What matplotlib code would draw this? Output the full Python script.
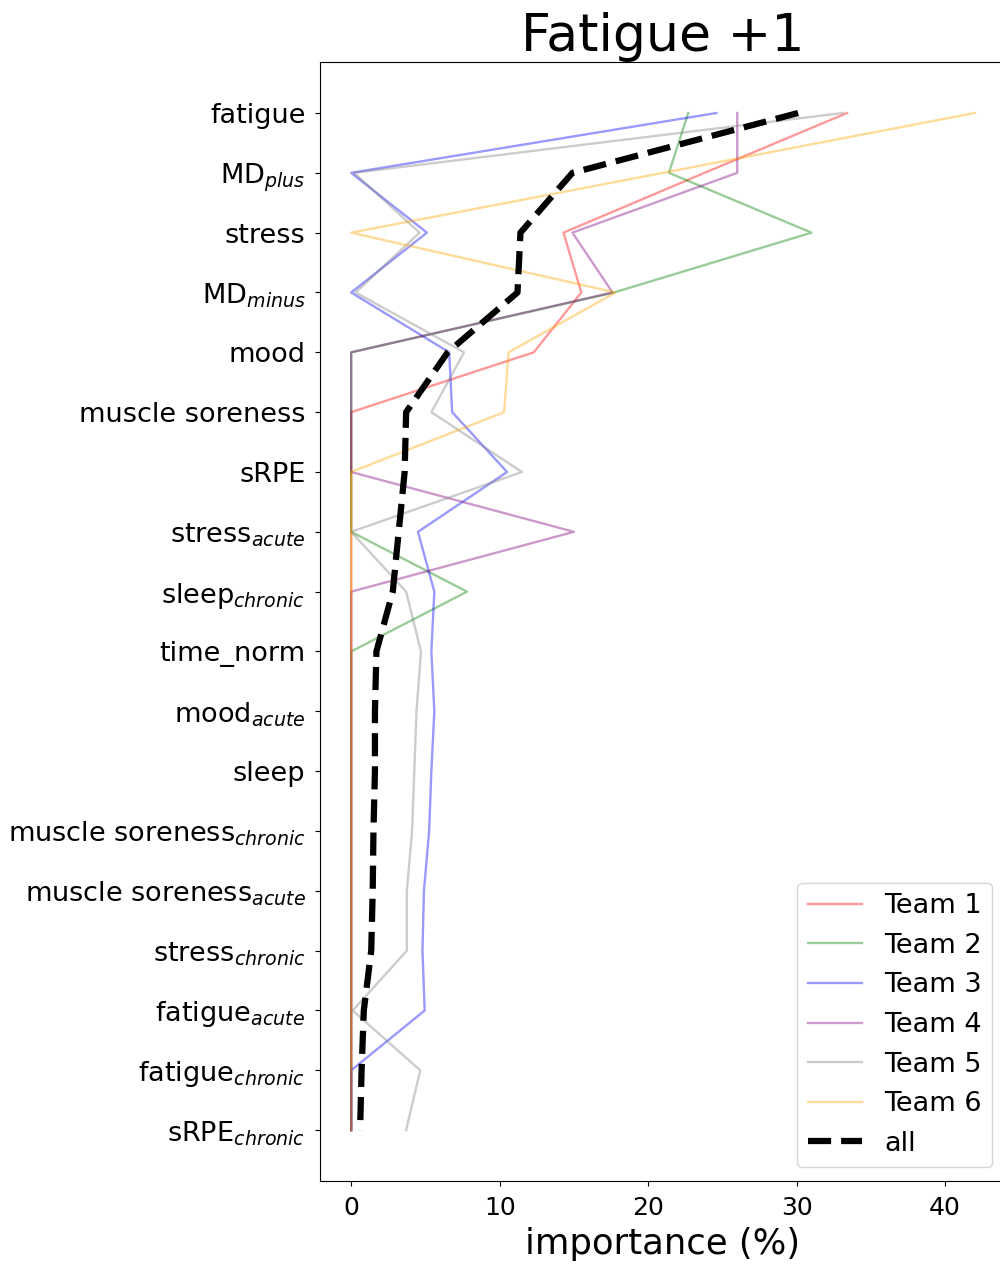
import numpy as np
import matplotlib
matplotlib.use('Agg')
import matplotlib.pyplot as plt


features = [
    'fatigue', r'MD$_{plus}$', 'stress', r'MD$_{minus}$', 'mood',
    'muscle soreness', 'sRPE', r'stress$_{acute}$', r'sleep$_{chronic}$',
    'time_norm', r'mood$_{acute}$', 'sleep', r'muscle soreness$_{chronic}$',
    r'muscle soreness$_{acute}$', r'stress$_{chronic}$', r'fatigue$_{acute}$',
    r'fatigue$_{chronic}$', r'sRPE$_{chronic}$',
]

team1 = [33.4, 23.8, 14.3, 15.5, 12.3, 0, 0, 0, 0, 0, 0, 0, 0, 0, 0, 0, 0, 0]
team2 = [22.7, 21.4, 31.0, 17.7, 0, 0, 0, 0, 7.8, 0, 0, 0, 0, 0, 0, 0, 0, 0]
team3 = [24.6, 0, 5.1, 0, 6.6, 6.8, 10.5, 4.5, 5.6, 5.4, 5.6, 5.4, 5.25, 4.9, 4.8, 4.95, 0, 0]
team4 = [26.0, 26.0, 14.9, 17.6, 0, 0, 0, 15.0, 0, 0, 0, 0, 0, 0, 0, 0, 0, 0]
team5 = [33.1, 0.2, 4.6, 0.3, 7.6, 5.4, 11.5, 0, 3.7, 4.7, 4.4, 4.25, 4.1, 3.75, 3.75, 0.1, 4.65, 3.7]
team6 = [42.0, 21.0, 0, 17.8, 10.6, 10.3, 0, 0, 0, 0, 0, 0, 0, 0, 0, 0, 0, 0]
all_teams = [30.1, 14.9, 11.4, 11.2, 6.5, 3.7, 3.6, 3.2, 2.8, 1.7, 1.6, 1.6, 1.5, 1.45, 1.35, 0.85, 0.7, 0.6]

teams = [team1, team2, team3, team4, team5, team6]
team_names = ['Team 1', 'Team 2', 'Team 3', 'Team 4', 'Team 5', 'Team 6']
colors = ['red', 'green', 'blue', 'purple', 'gray', 'orange']

fig = plt.figure(figsize=(10, 12.68), dpi=100)
ax = fig.add_axes([0.32, 0.0686, 0.686, 0.8824])

y = np.arange(len(features))
for vals, name, c in zip(teams, team_names, colors):
    ax.plot(vals, y, color=c, alpha=0.4, lw=1.7, label=name)
ax.plot(all_teams, y, color='black', ls='--', lw=4.5, label='all')

ax.set_yticks(y)
ax.set_yticklabels(features, fontsize=19.5)
ax.invert_yaxis()
ax.tick_params(axis='y', pad=7)
ax.tick_params(axis='x', labelsize=18, pad=7.5)
ax.set_xticks([0, 10, 20, 30, 40])
ax.set_xlabel('importance (%)', fontsize=25.5, labelpad=5)
ax.set_title('Fatigue +1', fontsize=37.5)
ax.legend(loc='lower right', fontsize=19.5)

fig.savefig('out.png', dpi=100)
